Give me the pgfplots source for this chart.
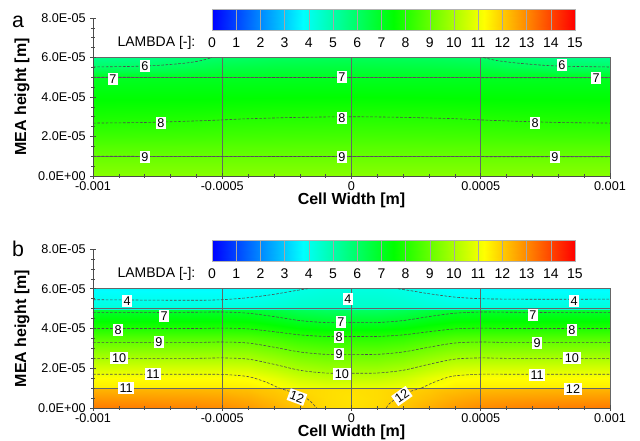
\documentclass[border=0pt]{standalone}
\usepackage{pgfplots}
\pgfplotsset{compat=1.18}
\usepackage{fontspec}
\setmainfont{Liberation Sans}
\pgfplotsset{
  colormap={lam}{rgb255=(0,0,255) rgb255=(0,255,255) rgb255=(0,255,0) rgb255=(255,255,0) rgb255=(255,0,0)},
  every axis/.append style={colormap name=lam, point meta min=0, point meta max=15,
    /pgf/number format/assume math mode=true},
  field/.style={scale only axis, width=387.75pt, anchor=south west, clip=false,
    xmin=-10, xmax=10, ymin=0, ymax=8,
    axis x line*=bottom, axis y line*=left, axis on top,
    xtick={-10,-5,0,5,10}, xticklabels={-0.001,-0.0005,0,0.0005,0.001},
    ytick={0,2,4,6,8}, yticklabels={0.0E+00,2.0E-05,4.0E-05,6.0E-05,8.0E-05},
    minor x tick num=4, minor y tick num=3,
    tick align=center, major tick length=4pt, minor tick length=2.5pt,
    tick style={black!70, line width=0.4pt},
    axis line style={black!70, line width=0.5pt},
    ticklabel style={font=\fontsize{9.5}{11}\selectfont},
    xticklabel style={yshift=1.5pt},
    xlabel={Cell Width [m]}, ylabel={MEA height [m]},
    label style={font=\fontsize{12}{14}\selectfont\bfseries},
    ylabel style={at={(axis description cs:-0.1373,0.5)}, anchor=center},
  },
  cline/.style={black!70, line width=0.45pt, dash pattern=on 2pt off 1.2pt},
  bline/.style={black!60, line width=0.45pt},
  clbl/.style={draw=none, nodes near coords, nodes near coords align=center,
    point meta=explicit symbolic,
    every node near coord/.style={fill=white, inner sep=1.3pt, text=black,
      font=\fontsize{9.5}{11}\selectfont, anchor=center}},
  cbar/.style={scale only axis, width=272.25pt, height=15.75pt, anchor=south west, clip=false,
    xmin=0, xmax=15, ymin=0, ymax=1, xtick={0,1,...,15}, ytick=\empty,
    major tick length=0pt, xmajorgrids, grid style={black!35, line width=0.3pt},
    axis on top, axis line style={black!30, line width=0.4pt},
    ticklabel style={font=\fontsize{10.5}{12}\selectfont}, xticklabel style={yshift=-2pt}},
}
\newcommand{\cbar}[1]{%
\begin{axis}[cbar, at={(159pt,#1)}]
\addplot[surf, shader=interp, mesh/cols=16, point meta=explicit] table[row sep=\\, meta=z] {
x y z\\
0 0 0\\ 1 0 1\\ 2 0 2\\ 3 0 3\\ 4 0 4\\ 5 0 5\\ 6 0 6\\ 7 0 7\\ 8 0 8\\ 9 0 9\\ 10 0 10\\ 11 0 11\\ 12 0 12\\ 13 0 13\\ 14 0 14\\ 15 0 15\\
0 1 0\\ 1 1 1\\ 2 1 2\\ 3 1 3\\ 4 1 4\\ 5 1 5\\ 6 1 6\\ 7 1 7\\ 8 1 8\\ 9 1 9\\ 10 1 10\\ 11 1 11\\ 12 1 12\\ 13 1 13\\ 14 1 14\\ 15 1 15\\
};
\node[anchor=east, font=\fontsize{10.5}{12}\selectfont, inner sep=0pt] at (axis description cs:-0.045,-0.6) {LAMBDA [-]:};
\end{axis}}
\begin{document}
\begin{tikzpicture}
\path[use as bounding box] (0,0) rectangle (480pt,330pt);
% ---------------- panel a ----------------
\begin{axis}[field, at={(69.75pt,198pt)}, height=118.5pt,
  xlabel style={at={(axis description cs:0.5,-0.152)}, anchor=center}]
\addplot[surf, shader=interp, mesh/cols=11, point meta=explicit] table[row sep=\\, meta=z] {
x y z\\
-10 0 9.5\\ -8 0 9.5\\ -6 0 9.5\\ -5 0 9.5\\ -3 0 9.5\\ 0 0 9.5\\ 3 0 9.5\\ 5 0 9.5\\ 6 0 9.5\\ 8 0 9.5\\ 10 0 9.5\\
-10 0.5 9.25\\ -8 0.5 9.25\\ -6 0.5 9.25\\ -5 0.5 9.25\\ -3 0.5 9.25\\ 0 0.5 9.25\\ 3 0.5 9.25\\ 5 0.5 9.25\\ 6 0.5 9.25\\ 8 0.5 9.25\\ 10 0.5 9.25\\
-10 1 9.0\\ -8 1 9.0\\ -6 1 9.0\\ -5 1 9.0\\ -3 1 9.0\\ 0 1 9.0\\ 3 1 9.0\\ 5 1 9.0\\ 6 1 9.0\\ 8 1 9.0\\ 10 1 9.0\\
-10 1.5 8.70\\ -8 1.5 8.71\\ -6 1.5 8.72\\ -5 1.5 8.73\\ -3 1.5 8.74\\ 0 1.5 8.75\\ 3 1.5 8.74\\ 5 1.5 8.73\\ 6 1.5 8.72\\ 8 1.5 8.71\\ 10 1.5 8.70\\
-10 2 8.41\\ -8 2 8.42\\ -6 2 8.44\\ -5 2 8.46\\ -3 2 8.48\\ 0 2 8.5\\ 3 2 8.48\\ 5 2 8.46\\ 6 2 8.44\\ 8 2 8.42\\ 10 2 8.41\\
-10 2.5 8.12\\ -8 2.5 8.14\\ -6 2.5 8.17\\ -5 2.5 8.20\\ -3 2.5 8.23\\ 0 2.5 8.25\\ 3 2.5 8.23\\ 5 2.5 8.20\\ 6 2.5 8.17\\ 8 2.5 8.14\\ 10 2.5 8.12\\
-10 3 7.87\\ -8 3 7.89\\ -6 3 7.92\\ -5 3 7.95\\ -3 3 7.98\\ 0 3 8.0\\ 3 3 7.98\\ 5 3 7.95\\ 6 3 7.92\\ 8 3 7.89\\ 10 3 7.87\\
-10 3.5 7.65\\ -8 3.5 7.66\\ -6 3.5 7.68\\ -5 3.5 7.70\\ -3 3.5 7.73\\ 0 3.5 7.75\\ 3 3.5 7.73\\ 5 3.5 7.70\\ 6 3.5 7.68\\ 8 3.5 7.66\\ 10 3.5 7.65\\
-10 4 7.43\\ -8 4 7.44\\ -6 4 7.45\\ -5 4 7.46\\ -3 4 7.48\\ 0 4 7.5\\ 3 4 7.48\\ 5 4 7.46\\ 6 4 7.45\\ 8 4 7.44\\ 10 4 7.43\\
-10 4.5 7.22\\ -8 4.5 7.22\\ -6 4.5 7.23\\ -5 4.5 7.23\\ -3 4.5 7.24\\ 0 4.5 7.25\\ 3 4.5 7.24\\ 5 4.5 7.23\\ 6 4.5 7.23\\ 8 4.5 7.22\\ 10 4.5 7.22\\
-10 5 7.0\\ -8 5 7.0\\ -6 5 7.0\\ -5 5 7.0\\ -3 5 7.0\\ 0 5 7.0\\ 3 5 7.0\\ 5 5 7.0\\ 6 5 7.0\\ 8 5 7.0\\ 10 5 7.0\\
-10 5.5 6.0\\ -8 5.5 6.05\\ -6 5.5 6.3\\ -5 5.5 6.45\\ -3 5.5 6.55\\ 0 5.5 6.6\\ 3 5.5 6.55\\ 5 5.5 6.45\\ 6 5.5 6.3\\ 8 5.5 6.05\\ 10 5.5 6.0\\
-10 6 5.5\\ -8 6 5.6\\ -6 6 5.9\\ -5 6 6.03\\ -3 6 6.18\\ 0 6 6.25\\ 3 6 6.18\\ 5 6 6.03\\ 6 6 5.9\\ 8 6 5.6\\ 10 6 5.5\\
};
% layer boundaries, grid lines, outline
\addplot[bline] coordinates {(-10,1) (10,1)};
\addplot[bline] coordinates {(-10,5) (10,5)};
\addplot[bline] coordinates {(-5,0) (-5,6)};
\addplot[bline] coordinates {(0,0) (0,6)};
\addplot[bline] coordinates {(5,0) (5,6)};
\addplot[bline] coordinates {(-10,6) (10,6) (10,0)};
% contour lines
\addplot[cline, smooth] coordinates {(-10,5.52) (-8.5,5.55) (-7.5,5.6) (-6.4,5.72) (-5.8,5.85) (-5.4,6.0)};
\addplot[cline, smooth] coordinates {(5.1,6.0) (5.6,5.85) (6.4,5.72) (7.5,5.6) (8.5,5.55) (10,5.52)};
\addplot[cline] coordinates {(-10,5.0) (10,4.97)};
\addplot[cline, smooth] coordinates {(-10,2.68) (-8,2.71) (-6,2.79) (-5,2.84) (-4,2.9) (-2,2.97) (0,3.0) (2,2.97) (4,2.9) (5,2.84) (6,2.79) (8,2.71) (10,2.68)};
\addplot[cline] coordinates {(-10,1.0) (10,0.97)};
% contour labels
\addplot[clbl] table[row sep=\\, meta=l] {
x y l\\
-7.99 5.57 6\\ 8.14 5.62 6\\
-9.23 4.91 7\\ -0.37 5.01 7\\ 9.46 4.96 7\\
-7.37 2.68 8\\ -0.37 2.94 8\\ 7.10 2.68 8\\
-7.99 0.96 9\\ -0.37 0.96 9\\ 7.87 0.96 9\\
};
\node[font=\fontsize{16}{18}\selectfont, anchor=base] at (axis description cs:-0.1451,0.943) {a};
\end{axis}
\cbar{307.5pt}
% ---------------- panel b ----------------
\begin{axis}[field, at={(69.75pt,24pt)}, height=119.25pt,
  xlabel style={at={(axis description cs:0.5,-0.151)}, anchor=center}]
\addplot[surf, shader=interp, mesh/cols=17, point meta=explicit] table[row sep=\\, meta=z] {
x y z\\
-10 0 13.2\\ -8 0 13.15\\ -6 0 13.05\\ -5 0 12.95\\ -4 0 12.75\\ -3 0 12.45\\ -2 0 12.1\\ -1 0 11.8\\ 0 0 11.7\\ 1 0 11.8\\ 2 0 12.1\\ 3 0 12.45\\ 4 0 12.75\\ 5 0 12.95\\ 6 0 13.05\\ 8 0 13.15\\ 10 0 13.2\\
-10 0.5 12.75\\ -8 0.5 12.7\\ -6 0.5 12.65\\ -5 0.5 12.6\\ -4 0.5 12.45\\ -3 0.5 12.2\\ -2 0.5 11.95\\ -1 0.5 11.75\\ 0 0.5 11.65\\ 1 0.5 11.75\\ 2 0.5 11.95\\ 3 0.5 12.2\\ 4 0.5 12.45\\ 5 0.5 12.6\\ 6 0.5 12.65\\ 8 0.5 12.7\\ 10 0.5 12.75\\
-10 1 12.3\\ -8 1 12.28\\ -6 1 12.25\\ -5 1 12.22\\ -4 1 12.15\\ -3 1 12.02\\ -2 1 11.85\\ -1 1 11.75\\ 0 1 11.7\\ 1 1 11.75\\ 2 1 11.85\\ 3 1 12.02\\ 4 1 12.15\\ 5 1 12.22\\ 6 1 12.25\\ 8 1 12.28\\ 10 1 12.3\\
-10 1 11.5\\ -8 1 11.5\\ -6 1 11.5\\ -5 1 11.5\\ -4 1 11.47\\ -3 1 11.27\\ -2 1 11.02\\ -1 1 10.9\\ 0 1 10.9\\ 1 1 10.9\\ 2 1 11.02\\ 3 1 11.27\\ 4 1 11.47\\ 5 1 11.5\\ 6 1 11.5\\ 8 1 11.5\\ 10 1 11.5\\
-10 1.5 11.25\\ -8 1.5 11.25\\ -6 1.5 11.25\\ -5 1.5 11.25\\ -4 1.5 11.20\\ -3 1.5 10.89\\ -2 1.5 10.51\\ -1 1.5 10.33\\ 0 1.5 10.33\\ 1 1.5 10.33\\ 2 1.5 10.51\\ 3 1.5 10.89\\ 4 1.5 11.20\\ 5 1.5 11.25\\ 6 1.5 11.25\\ 8 1.5 11.25\\ 10 1.5 11.25\\
-10 2 10.62\\ -8 2 10.62\\ -6 2 10.62\\ -5 2 10.62\\ -4 2 10.58\\ -3 2 10.28\\ -2 2 9.92\\ -1 2 9.74\\ 0 2 9.74\\ 1 2 9.74\\ 2 2 9.92\\ 3 2 10.28\\ 4 2 10.58\\ 5 2 10.62\\ 6 2 10.62\\ 8 2 10.62\\ 10 2 10.62\\
-10 2.5 10.0\\ -8 2.5 10.0\\ -6 2.5 10.0\\ -5 2.5 10.0\\ -4 2.5 9.96\\ -3 2.5 9.69\\ -2 2.5 9.37\\ -1 2.5 9.21\\ 0 2.5 9.21\\ 1 2.5 9.21\\ 2 2.5 9.37\\ 3 2.5 9.69\\ 4 2.5 9.96\\ 5 2.5 10.0\\ 6 2.5 10.0\\ 8 2.5 10.0\\ 10 2.5 10.0\\
-10 3 9.37\\ -8 3 9.37\\ -6 3 9.37\\ -5 3 9.37\\ -4 3 9.34\\ -3 3 9.10\\ -2 3 8.81\\ -1 3 8.67\\ 0 3 8.67\\ 1 3 8.67\\ 2 3 8.81\\ 3 3 9.10\\ 4 3 9.34\\ 5 3 9.37\\ 6 3 9.37\\ 8 3 9.37\\ 10 3 9.37\\
-10 3.5 8.71\\ -8 3.5 8.71\\ -6 3.5 8.71\\ -5 3.5 8.71\\ -4 3.5 8.68\\ -3 3.5 8.48\\ -2 3.5 8.23\\ -1 3.5 8.11\\ 0 3.5 8.11\\ 1 3.5 8.11\\ 2 3.5 8.23\\ 3 3.5 8.48\\ 4 3.5 8.68\\ 5 3.5 8.71\\ 6 3.5 8.71\\ 8 3.5 8.71\\ 10 3.5 8.71\\
-10 4 8.0\\ -8 4 8.0\\ -6 4 8.0\\ -5 4 8.0\\ -4 4 7.97\\ -3 4 7.78\\ -2 4 7.54\\ -1 4 7.43\\ 0 4 7.43\\ 1 4 7.43\\ 2 4 7.54\\ 3 4 7.78\\ 4 4 7.97\\ 5 4 8.0\\ 6 4 8.0\\ 8 4 8.0\\ 10 4 8.0\\
-10 4.5 7.37\\ -8 4.5 7.37\\ -6 4.5 7.37\\ -5 4.5 7.37\\ -4 4.5 7.34\\ -3 4.5 7.11\\ -2 4.5 6.84\\ -1 4.5 6.71\\ 0 4.5 6.71\\ 1 4.5 6.71\\ 2 4.5 6.84\\ 3 4.5 7.11\\ 4 4.5 7.34\\ 5 4.5 7.37\\ 6 4.5 7.37\\ 8 4.5 7.37\\ 10 4.5 7.37\\
-10 5 6.75\\ -8 5 6.75\\ -6 5 6.75\\ -5 5 6.75\\ -4 5 6.71\\ -3 5 6.46\\ -2 5 6.15\\ -1 5 6.0\\ 0 5 6.0\\ 1 5 6.0\\ 2 5 6.15\\ 3 5 6.46\\ 4 5 6.71\\ 5 5 6.75\\ 6 5 6.75\\ 8 5 6.75\\ 10 5 6.75\\
-10 5 4.3\\ -8 5 4.3\\ -6 5 4.3\\ -5 5 4.3\\ -4 5 4.32\\ -3 5 4.42\\ -2 5 4.54\\ -1 5 4.6\\ 0 5 4.6\\ 1 5 4.6\\ 2 5 4.54\\ 3 5 4.42\\ 4 5 4.32\\ 5 5 4.3\\ 6 5 4.3\\ 8 5 4.3\\ 10 5 4.3\\
-10 5.5 3.97\\ -8 5.5 3.97\\ -6 5.5 3.97\\ -5 5.5 3.97\\ -4 5.5 3.99\\ -3 5.5 4.14\\ -2 5.5 4.31\\ -1 5.5 4.4\\ 0 5.5 4.4\\ 1 5.5 4.4\\ 2 5.5 4.31\\ 3 5.5 4.14\\ 4 5.5 3.99\\ 5 5.5 3.97\\ 6 5.5 3.97\\ 8 5.5 3.97\\ 10 5.5 3.97\\
-10 6 3.7\\ -8 6 3.7\\ -6 6 3.7\\ -5 6 3.7\\ -4 6 3.73\\ -3 6 3.9\\ -2 6 4.1\\ -1 6 4.2\\ 0 6 4.2\\ 1 6 4.2\\ 2 6 4.1\\ 3 6 3.9\\ 4 6 3.73\\ 5 6 3.7\\ 6 6 3.7\\ 8 6 3.7\\ 10 6 3.7\\
};
\addplot[bline] coordinates {(-10,1) (10,1)};
\addplot[bline] coordinates {(-10,5) (10,5)};
\addplot[bline] coordinates {(-5,0) (-5,6)};
\addplot[bline] coordinates {(0,0) (0,6)};
\addplot[bline] coordinates {(5,0) (5,6)};
\addplot[bline] coordinates {(-10,6) (10,6) (10,0)};
% contour lines
\addplot[cline, smooth] coordinates {(-10,5.45) (-8,5.43) (-6,5.42) (-5,5.45) (-4,5.55) (-3,5.72) (-2.2,5.9) (-1.7,6.0)};
\addplot[cline, smooth] coordinates {(1.8,6.0) (2.3,5.9) (3,5.75) (4,5.58) (5,5.5) (6,5.48) (8,5.47) (10,5.48)};
\addplot[cline, smooth] coordinates {(-10,4.8) (-8,4.8) (-6,4.82) (-5,4.83) (-4,4.77) (-3,4.6) (-2,4.4) (-1,4.3) (0,4.3) (1,4.3) (2,4.4) (3,4.6) (4,4.77) (5,4.83) (6,4.82) (8,4.8) (10,4.8)};
\addplot[cline, smooth] coordinates {(-10,4.0) (-8,4.0) (-6,4.0) (-5,4.02) (-4,3.98) (-3,3.84) (-2,3.68) (-1,3.6) (0,3.6) (1,3.6) (2,3.68) (3,3.84) (4,3.98) (5,4.02) (6,4.0) (8,4.0) (10,4.0)};
\addplot[cline, smooth] coordinates {(-10,3.3) (-8,3.3) (-6,3.3) (-5,3.32) (-4,3.27) (-3,3.06) (-2,2.82) (-1,2.7) (0,2.7) (1,2.7) (2,2.82) (3,3.06) (4,3.27) (5,3.32) (6,3.3) (8,3.3) (10,3.3)};
\addplot[cline, smooth] coordinates {(-10,2.5) (-8,2.5) (-6,2.5) (-5,2.52) (-4,2.46) (-3,2.2) (-2,1.9) (-1,1.76) (0,1.75) (1,1.76) (2,1.9) (3,2.2) (4,2.46) (5,2.52) (6,2.5) (8,2.5) (10,2.5)};
\addplot[cline, smooth] coordinates {(-10,1.7) (-8,1.7) (-6,1.7) (-5,1.69) (-4,1.58) (-3.3,1.3) (-2.8,1.0)};
\addplot[cline, smooth] coordinates {(2.7,1.0) (3.2,1.3) (3.9,1.6) (5,1.7) (6,1.7) (8,1.7) (10,1.7)};
\addplot[cline, smooth] coordinates {(-2.8,1.0) (-2.2,0.75) (-1.7,0.45) (-1.45,0.15) (-1.35,0)};
\addplot[cline, smooth] coordinates {(1.35,0) (1.45,0.2) (1.76,0.5) (2.2,0.8) (2.7,1.0)};
% contour labels
\addplot[clbl] table[row sep=\\, meta=l] {
x y l\\
-8.68 5.38 4\\ -0.14 5.48 4\\ 8.61 5.38 4\\
-7.25 4.63 7\\ -0.41 4.33 7\\ 7.02 4.68 7\\
-9.03 3.92 8\\ -0.48 3.57 8\\ 8.53 3.92 8\\
-7.45 3.32 9\\ -0.48 2.72 9\\ 7.18 3.27 9\\
-8.99 2.52 10\\ -0.37 1.71 10\\ 8.53 2.52 10\\
-7.68 1.71 11\\ -8.72 1.01 11\\ 7.18 1.66 11\\
8.57 0.96 12\\
};
\addplot[clbl, every node near coord/.append style={rotate=-20}] table[row sep=\\, meta=l] {
x y l\\
-2.11 0.55 12\\
};
\addplot[clbl, every node near coord/.append style={rotate=35}] table[row sep=\\, meta=l] {
x y l\\
1.95 0.6 12\\
};
\node[font=\fontsize{16}{18}\selectfont, anchor=base] at (axis description cs:-0.1451,0.950) {b};
\end{axis}
\cbar{134.25pt}
\end{tikzpicture}
\end{document}
